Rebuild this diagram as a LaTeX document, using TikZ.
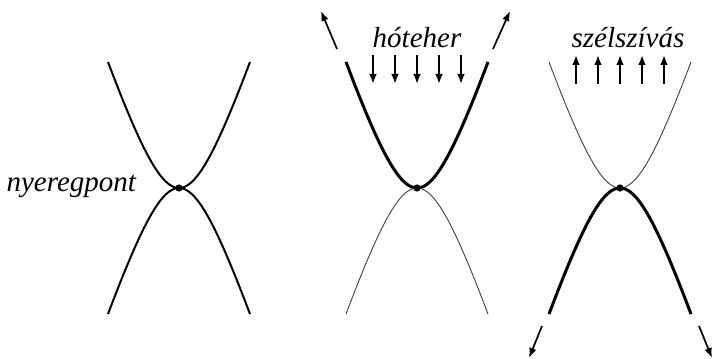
\documentclass[tikz,border=0pt]{standalone}
\usepackage{fontspec}
\setmainfont{Liberation Serif}
\usetikzlibrary{arrows.meta}

\begin{document}
\begin{tikzpicture}[x=0.5pt, y=-0.5pt, font=\fontsize{14.5}{16}\selectfont\itshape,
  midarm/.style={line width=1pt},
  thickarm/.style={line width=1.5pt},
  thinarm/.style={line width=0.45pt, black!75},
  loadarrow/.style={line width=0.85pt, -{Latex[length=5pt,width=3.8pt]}},
  saddle/.style={circle, fill, inner sep=0pt, minimum size=3.6pt}]
\useasboundingbox (0,0) rectangle (721,358);

% panel 1: saddle point
\draw[midarm] plot[domain=-71:71, samples=60] ({179+\x}, {188-121.5*(sqrt(1+(\x/40)^2)-1)});
\draw[midarm] plot[domain=-71:71, samples=60] ({179+\x}, {188+121.5*(sqrt(1+(\x/40)^2)-1)});
\node[saddle] (s1) at (179,188) {};
\node[anchor=base east] (saddlelabel) at (143,191) {nyeregpont};

% panel 2: snow load
\draw[thickarm] plot[domain=-71:71, samples=60] ({417+\x}, {188-121.5*(sqrt(1+(\x/40)^2)-1)});
\draw[thinarm] plot[domain=-71:71, samples=60] ({417+\x}, {188+121.5*(sqrt(1+(\x/40)^2)-1)});
\node[saddle] (s2) at (417,188) {};
\node[anchor=base] (snowlabel) at (417,48) {hóteher};
\foreach \i in {-2,...,2}
  \draw[loadarrow] ({417+22*\i},55) -- ({417+22*\i},84);
\coordinate (snowtailL) at (337,49);
\coordinate (snowtipL) at (321,11);
\coordinate (snowtailR) at (493,49);
\coordinate (snowtipR) at (510,11);
\draw[loadarrow] (snowtailL) -- (snowtipL);
\draw[loadarrow] (snowtailR) -- (snowtipR);

% panel 3: wind suction
\draw[thinarm] plot[domain=-71:71, samples=60] ({620+\x}, {188-121.5*(sqrt(1+(\x/40)^2)-1)});
\draw[thickarm] plot[domain=-71:71, samples=60] ({620+\x}, {188+121.5*(sqrt(1+(\x/40)^2)-1)});
\node[saddle] (s3) at (620,188) {};
\node[anchor=base] (windlabel) at (628,48) {szélszívás};
\foreach \i in {-2,...,2}
  \draw[loadarrow] ({620+22*\i},84) -- ({620+22*\i},55);
\coordinate (windtailL) at (542,326);
\coordinate (windtipL) at (529,358);
\coordinate (windtailR) at (699,326);
\coordinate (windtipR) at (712,358);
\draw[loadarrow] (windtailL) -- (windtipL);
\draw[loadarrow] (windtailR) -- (windtipR);
\end{tikzpicture}
\end{document}
